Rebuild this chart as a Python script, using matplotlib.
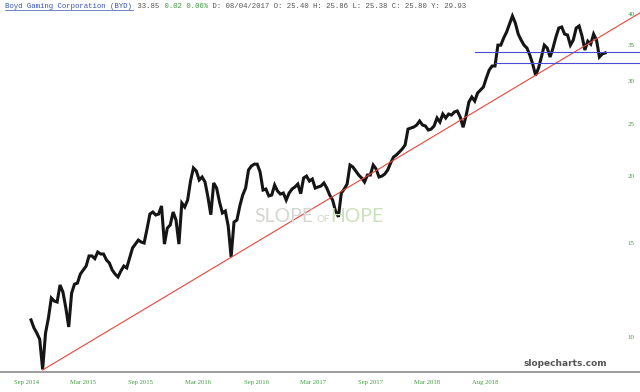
import matplotlib
matplotlib.use("Agg")
import matplotlib.pyplot as plt
from matplotlib.patches import Arc
import numpy as np

# weekly closes, Sep 2014 .. Sep 2018
close = [10.76, 10.40, 10.17, 9.90, 8.70, 10.17, 10.85, 11.82, 11.67, 11.62,
         12.50, 12.13, 11.33, 10.44, 12.08, 12.55, 12.60, 13.10, 13.33, 13.56,
         14.16, 14.16, 14.00, 14.40, 14.28, 14.28, 13.92, 13.74, 13.33, 13.10,
         12.94, 13.28, 13.56, 13.45, 14.04, 14.65, 14.90, 15.16, 15.03, 14.97,
         15.90, 16.95, 17.10, 16.88, 16.95, 17.55, 14.90, 15.96, 16.17, 17.10,
         16.52, 14.90, 17.77, 17.47, 18.00, 19.53, 20.66, 20.39, 19.62, 19.87,
         19.45, 18.24, 16.90, 19.37, 18.95, 17.85, 17.03, 17.17, 16.10, 14.10,
         16.38, 16.52, 17.55, 18.39, 18.95, 20.48, 20.83, 21.00, 21.00, 20.30,
         18.79, 18.87, 18.32, 18.39, 19.20, 18.71, 18.47, 18.55, 18.00, 18.55,
         18.87, 19.04, 19.28, 18.50, 19.79, 19.95, 19.53, 19.70, 18.95, 19.04,
         19.12, 19.37, 18.95, 18.39, 18.00, 17.17, 16.75, 18.55, 18.87, 19.28,
         20.92, 20.74, 20.39, 20.04, 19.79, 19.45, 20.04, 20.04, 20.92, 20.57,
         19.87, 19.95, 20.13, 20.48, 21.10, 21.65, 21.84, 22.12, 22.41, 22.80,
         24.41, 24.52, 24.63, 24.84, 25.27, 24.84, 24.74, 24.31, 24.41, 24.74,
         25.60, 25.16, 26.04, 25.60, 26.04, 25.93, 26.27, 26.38, 25.71, 24.60,
         25.82, 27.42, 28.01, 27.53, 28.50, 28.87, 29.24, 30.39, 31.45, 32.00,
         32.00, 35.00, 35.00, 36.10, 37.03, 38.33, 39.66, 38.49, 36.70, 35.78,
         35.00, 34.57, 33.54, 32.27, 30.75, 31.72, 33.26, 35.00, 34.57, 33.26,
         34.57, 36.24, 37.67, 37.83, 36.70, 36.55, 35.00, 35.78, 37.67, 38.00,
         36.40, 34.27, 35.60, 35.15, 36.70, 35.78, 33.26, 33.70, 33.85]

# drawn lines (bar index, price)
trend_x = [4, 210]
trend_y = [8.68, 40.2]
resist_x = [153, 210]
resist_y = [34.0, 34.0]
support_x = [160, 210]
support_y = [32.4, 32.4]

x_labels = ["Sep 2014", "Mar 2015", "Sep 2015", "Mar 2016", "Sep 2016",
            "Mar 2017", "Sep 2017", "Mar 2018", "Aug 2018"]
x_label_pos = [-1.4, 17.9, 37.9, 57.6, 77.6, 97.2, 117.2, 136.6, 156.6]
y_ticks = [10, 15, 20, 25, 30, 35, 40]

# header pieces (text, colour)
title = "Boyd Gaming Corporation (BYD)"
header = [(title, "#3a55b0"),
          (" 33.85", "#555555"),
          (" 0.02 0.06%", "#3f9a3f"),
          (" D: 08/04/2017 O: 25.40 H: 25.86 L: 25.38 C: 25.80 Y: 29.93", "#555555")]

green = "#3f9a3f"
W, H = 640, 392


def fpos(px, py):
    return px / W, 1 - py / H


fig = plt.figure(figsize=(6.4, 3.92), dpi=100)
ax = fig.add_axes([0, 20 / H, 1, 372 / H])

x = np.arange(len(close))
ax.plot(x, close, color="#151515", lw=2.2, solid_joinstyle="miter")
ax.plot(trend_x, trend_y, color="#e8463c", lw=0.8)
ax.plot(resist_x, resist_y, color="#4a4ad8", lw=0.8)
ax.plot(support_x, support_y, color="#4a4ad8", lw=0.8)

ax.set_yscale("log")
ax.set_ylim(8.605, 42.48)
ax.set_xlim(-10.7, 210)
ax.yaxis.tick_right()
ax.set_yticks(y_ticks, [str(t) for t in y_ticks])
ax.yaxis.set_minor_locator(matplotlib.ticker.NullLocator())
ax.set_xticks(x_label_pos, x_labels)
ax.tick_params(axis="y", length=0, pad=-9, labelsize=5, labelcolor=green)
ax.tick_params(axis="x", length=0, pad=6, labelsize=4.8, labelcolor=green)
for lab in ax.get_xticklabels() + ax.get_yticklabels():
    lab.set_family("Liberation Serif")
for s in ["top", "left", "right"]:
    ax.spines[s].set_visible(False)
ax.spines["bottom"].set_color("#8c8c8c")
ax.spines["bottom"].set_linewidth(1.2)

# watermark
fig.text(*fpos(284, 217), "SLOPE", family="Lato", size=14, color="#d4d6d2",
         ha="center", va="center", zorder=0)
fig.text(*fpos(323, 219), "OF", family="Lato", size=7, color="#cfdcc4",
         ha="center", va="center", zorder=0)
fig.text(*fpos(357, 217), "HOPE", family="Lato", size=14, color="#cde0bc",
         ha="center", va="center", zorder=0)
fig.add_artist(Arc(fpos(326, 183), 48 / W, 36 / H, theta1=200, theta2=340,
                   transform=fig.transFigure, color="#d2e6c2", lw=3, zorder=0))

fig.text(*fpos(565, 364), "slopecharts.com", family="DejaVu Sans", weight="bold",
         size=6.5, color="#555555", ha="center", va="center")

# header: one monospace line, pieces coloured separately
fsize = 5.3
char_px = 0.6 * fsize * 100 / 72
hx, hy = 5, 6
n = 0
for txt, col in header:
    fig.text(*fpos(hx + n * char_px, hy), txt, family="Liberation Mono",
             size=fsize, color=col, va="center")
    n += len(txt)
fig.add_artist(plt.Line2D([hx / W, (hx + len(title) * char_px) / W],
                          [1 - 10 / H, 1 - 10 / H],
                          transform=fig.transFigure, color="#3a55b0", lw=0.5))

fig.savefig("out.png", dpi=100)
